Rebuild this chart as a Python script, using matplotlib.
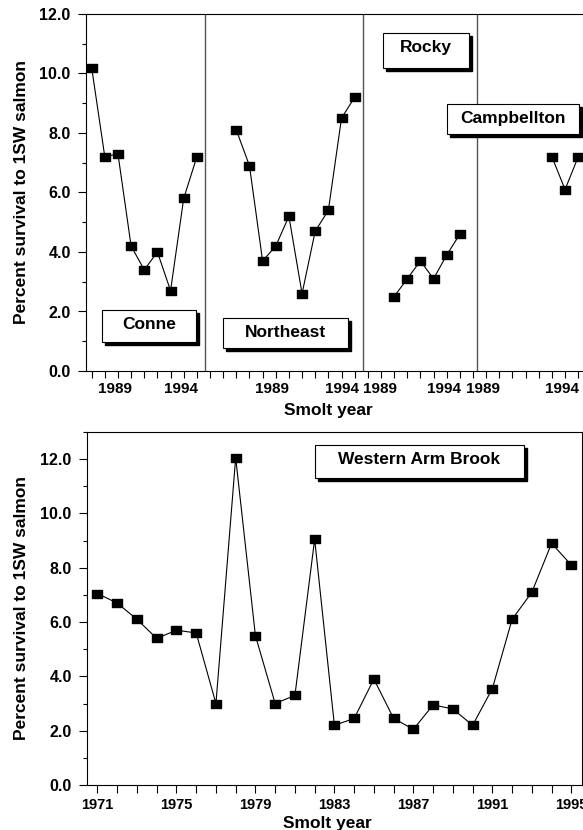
"""Smolt-to-1SW survival, four rivers plus Western Arm Brook."""
from matplotlib import pyplot as plt
from matplotlib.patches import Rectangle
from matplotlib.path import Path

# Top panel: rivers share one axis of yearly slots
rivers = ['Conne', 'Northeast', 'Rocky', 'Campbellton']
slot_start = [1987, 1984, 1988, 1988]
slot_count = [9, 12, 9, 8]

conne_years = [1987, 1988, 1989, 1990, 1991, 1992, 1993, 1994, 1995]
conne_surv = [10.2, 7.2, 7.3, 4.2, 3.4, 4.0, 2.7, 5.8, 7.2]

northeast_years = [1986, 1987, 1988, 1989, 1990, 1991, 1992, 1993, 1994, 1995]
northeast_surv = [8.1, 6.9, 3.7, 4.2, 5.2, 2.6, 4.7, 5.4, 8.5, 9.2]

rocky_years = [1990, 1991, 1992, 1993, 1994, 1995]
rocky_surv = [2.5, 3.1, 3.7, 3.1, 3.9, 4.6]

campbellton_years = [1993, 1994, 1995]
campbellton_surv = [7.2, 6.1, 7.2]

top_tick_labels = ['1989', '1994'] * 4

# Bottom panel
wab_years = list(range(1971, 1996))
wab_surv = [7.05, 6.7, 6.1, 5.4, 5.7, 5.6, 3.0, 12.05, 5.5, 3.0, 3.3, 9.05,
            2.2, 2.45, 3.9, 2.45, 2.05, 2.95, 2.8, 2.2, 3.55, 6.1, 7.1, 8.9, 8.1]

W, H = 583, 830
plt.rcParams['font.family'] = 'Liberation Sans'
plt.rcParams['font.weight'] = 'bold'
fig = plt.figure(figsize=(W / 100, H / 100), dpi=100)

# slightly flattened square marker like the original
flat_sq = Path([(-1.35, -1), (1.35, -1), (1.35, 1), (-1.35, 1), (-1.35, -1)],
               [Path.MOVETO, Path.LINETO, Path.LINETO, Path.LINETO, Path.CLOSEPOLY])
mk = dict(color='black', linewidth=0.8, marker=flat_sq, markersize=7.8)


def px_axes(x0, y0, x1, y1):
    # pixel box (top-left origin) -> figure axes
    return fig.add_axes([x0 / W, 1 - y1 / H, (x1 - x0) / W, (y1 - y0) / H])


def shadow_box(x0, y0, x1, y1, text):
    d = 3
    fig.add_artist(Rectangle(((x0 + d) / W, 1 - (y1 + d) / H), (x1 - x0) / W, (y1 - y0) / H,
                             transform=fig.transFigure, facecolor='black', edgecolor='black', zorder=5))
    fig.add_artist(Rectangle((x0 / W, 1 - y1 / H), (x1 - x0) / W, (y1 - y0) / H,
                             transform=fig.transFigure, facecolor='white', edgecolor='black',
                             linewidth=0.8, zorder=6))
    fig.text((x0 + x1) / 2 / W, 1 - (y0 + 19) / H, text, ha='center', va='baseline',
             fontsize=12.5, fontweight='bold', zorder=7)


def style_y(ax, top, xpos):
    ax.set_ylim(0, top)
    ax.set_yticks(range(0, 13, 2))
    ax.set_yticklabels([f'{v:.1f}' for v in range(0, 13, 2)])
    ax.set_yticks([v for v in range(1, int(top) + 1, 2)], minor=True)
    ax.tick_params(axis='y', which='major', direction='out', length=6, width=0.8,
                   labelsize=11.5, pad=5)
    ax.tick_params(axis='y', which='minor', direction='out', length=3, width=0.8)
    ax.set_ylabel('Percent survival to 1SW salmon', fontsize=12.5, fontweight='bold')
    ax.yaxis.set_label_coords(xpos, 0.5)
    for s in ax.spines.values():
        s.set_linewidth(0.8)


# ---- top panel ----
ax1 = px_axes(86, 14, 584, 371)
series = [(conne_years, conne_surv), (northeast_years, northeast_surv),
          (rocky_years, rocky_surv), (campbellton_years, campbellton_surv)]
offset = 0
for (yrs, vals), start, count in zip(series, slot_start, slot_count):
    xs = [offset + y - start for y in yrs]
    ax1.plot(xs, vals, **mk)
    offset += count

for xd in [8.65, 20.6, 29.3]:
    ax1.axvline(xd, color='#555555', linewidth=1.0)

ax1.set_xlim(-0.43, 37.44)
ax1.set_xticks(range(sum(slot_count)))
ax1.set_xticklabels([])
ax1.set_xticks([1.77, 6.77, 13.73, 19.01, 21.92, 26.79, 29.78, 35.74], minor=True)
ax1.set_xticklabels(top_tick_labels, minor=True)
ax1.tick_params(axis='x', which='major', direction='out', length=5, width=0.8)
ax1.tick_params(axis='x', which='minor', length=0, labelsize=11, pad=8)
style_y(ax1, 12, -0.114)
ax1.spines['right'].set_visible(False)
fig.text(328 / W, 1 - 415.5 / H, 'Smolt year', ha='center', va='baseline',
         fontsize=12.5, fontweight='bold')

# ---- bottom panel ----
ax2 = px_axes(87, 432, 582, 785)
ax2.plot(wab_years, wab_surv, **mk)
ax2.set_xlim(1970.47, 1995.54)
ax2.set_xticks(range(1971, 1996, 4))
ax2.set_xticks(wab_years, minor=True)
ax2.tick_params(axis='x', which='both', direction='out', length=6, width=0.8)
ax2.tick_params(axis='x', which='major', labelsize=10.5, pad=3)
style_y(ax2, 13, -0.117)
fig.text(327 / W, 1 - 828 / H, 'Smolt year', ha='center', va='baseline',
         fontsize=12.5, fontweight='bold')

shadow_box(102, 310, 196, 342, 'Conne')
shadow_box(223, 318, 348, 348, 'Northeast')
shadow_box(383, 33, 469, 68, 'Rocky')
shadow_box(447, 104, 579, 134, 'Campbellton')
shadow_box(315, 445, 524, 478, 'Western Arm Brook')

fig.savefig('out.png', dpi=100)
